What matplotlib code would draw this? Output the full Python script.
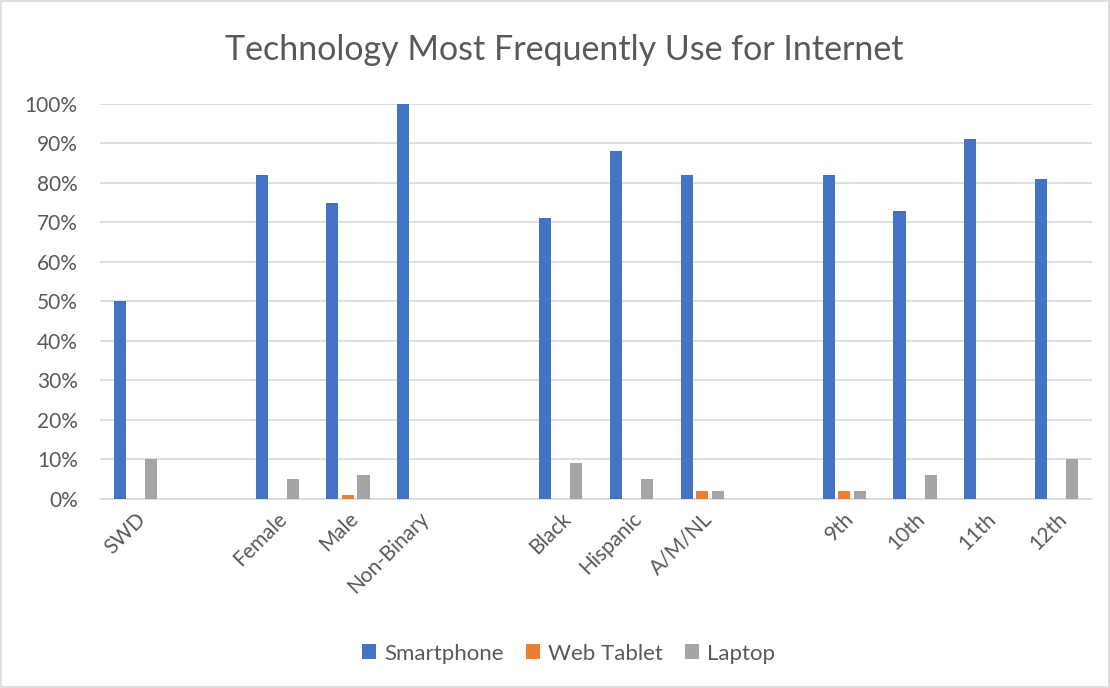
import numpy as np
import matplotlib
matplotlib.use("Agg")
import matplotlib.pyplot as plt
from matplotlib.ticker import PercentFormatter
from matplotlib.patches import Rectangle

categories = ["SWD", "", "Female", "Male", "Non-Binary", "", "Black", "Hispanic",
              "A/M/NL", "", "9th", "10th", "11th", "12th"]
smartphone = [50, None, 82, 75, 100, None, 71, 88, 82, None, 82, 73, 91, 81]
web_tablet = [0, None, 0, 1, 0, None, 0, 0, 2, None, 2, 0, 0, 0]
laptop = [10, None, 5, 6, 0, None, 9, 5, 2, None, 2, 6, 0, 10]

series = [("Smartphone", smartphone, "#4472C4"),
          ("Web Tablet", web_tablet, "#ED7D31"),
          ("Laptop", laptop, "#A5A5A5")]

plt.rcParams["font.family"] = ["Lato", "DejaVu Sans"]
text_color = "#595959"

fig = plt.figure(figsize=(11.1, 6.88), dpi=100)
ax = fig.add_axes([0.09, 0.2747, 0.894, 0.5744])

x = np.arange(len(categories))
step = 0.219
width = 0.17
for i, (name, vals, color) in enumerate(series):
    v = np.array([np.nan if a is None else a for a in vals], dtype=float)
    ax.bar(x + (i - 1) * step, v, width=width, color=color, label=name, zorder=3)

ax.set_xlim(-0.5, len(categories) - 0.5)
ax.set_ylim(0, 100)
ax.set_yticks(np.arange(0, 101, 10))
ax.yaxis.set_major_formatter(PercentFormatter(decimals=0))
ax.grid(axis="y", color="#D9D9D9", linewidth=1.2, zorder=0)
for s in ["top", "right", "left"]:
    ax.spines[s].set_visible(False)
ax.spines["bottom"].set_color("#D9D9D9")
ax.spines["bottom"].set_linewidth(1.2)
ax.tick_params(axis="both", length=0, labelsize=15, colors=text_color)
ax.tick_params(axis="y", pad=16)
ax.tick_params(axis="x", pad=7)

ax.set_xticks(x)
ax.set_xticklabels(categories, rotation=45, ha="right", va="top",
                   rotation_mode="anchor")

fig.text(0.508, 0.928, "Technology Most Frequently Use for Internet",
         ha="center", va="center", fontsize=24.5, color=text_color)

fig.legend(loc="center", bbox_to_anchor=(0.512, 0.05), ncol=3, frameon=False,
           fontsize=16, labelcolor=text_color, handlelength=0.65,
           handleheight=0.65, columnspacing=1.0, handletextpad=0.35)

fig.patches.append(Rectangle((0.001, 0.001), 0.998, 0.998, transform=fig.transFigure,
                             fill=False, edgecolor="#D9D9D9", linewidth=1.2))

fig.savefig("out.png", dpi=100)
